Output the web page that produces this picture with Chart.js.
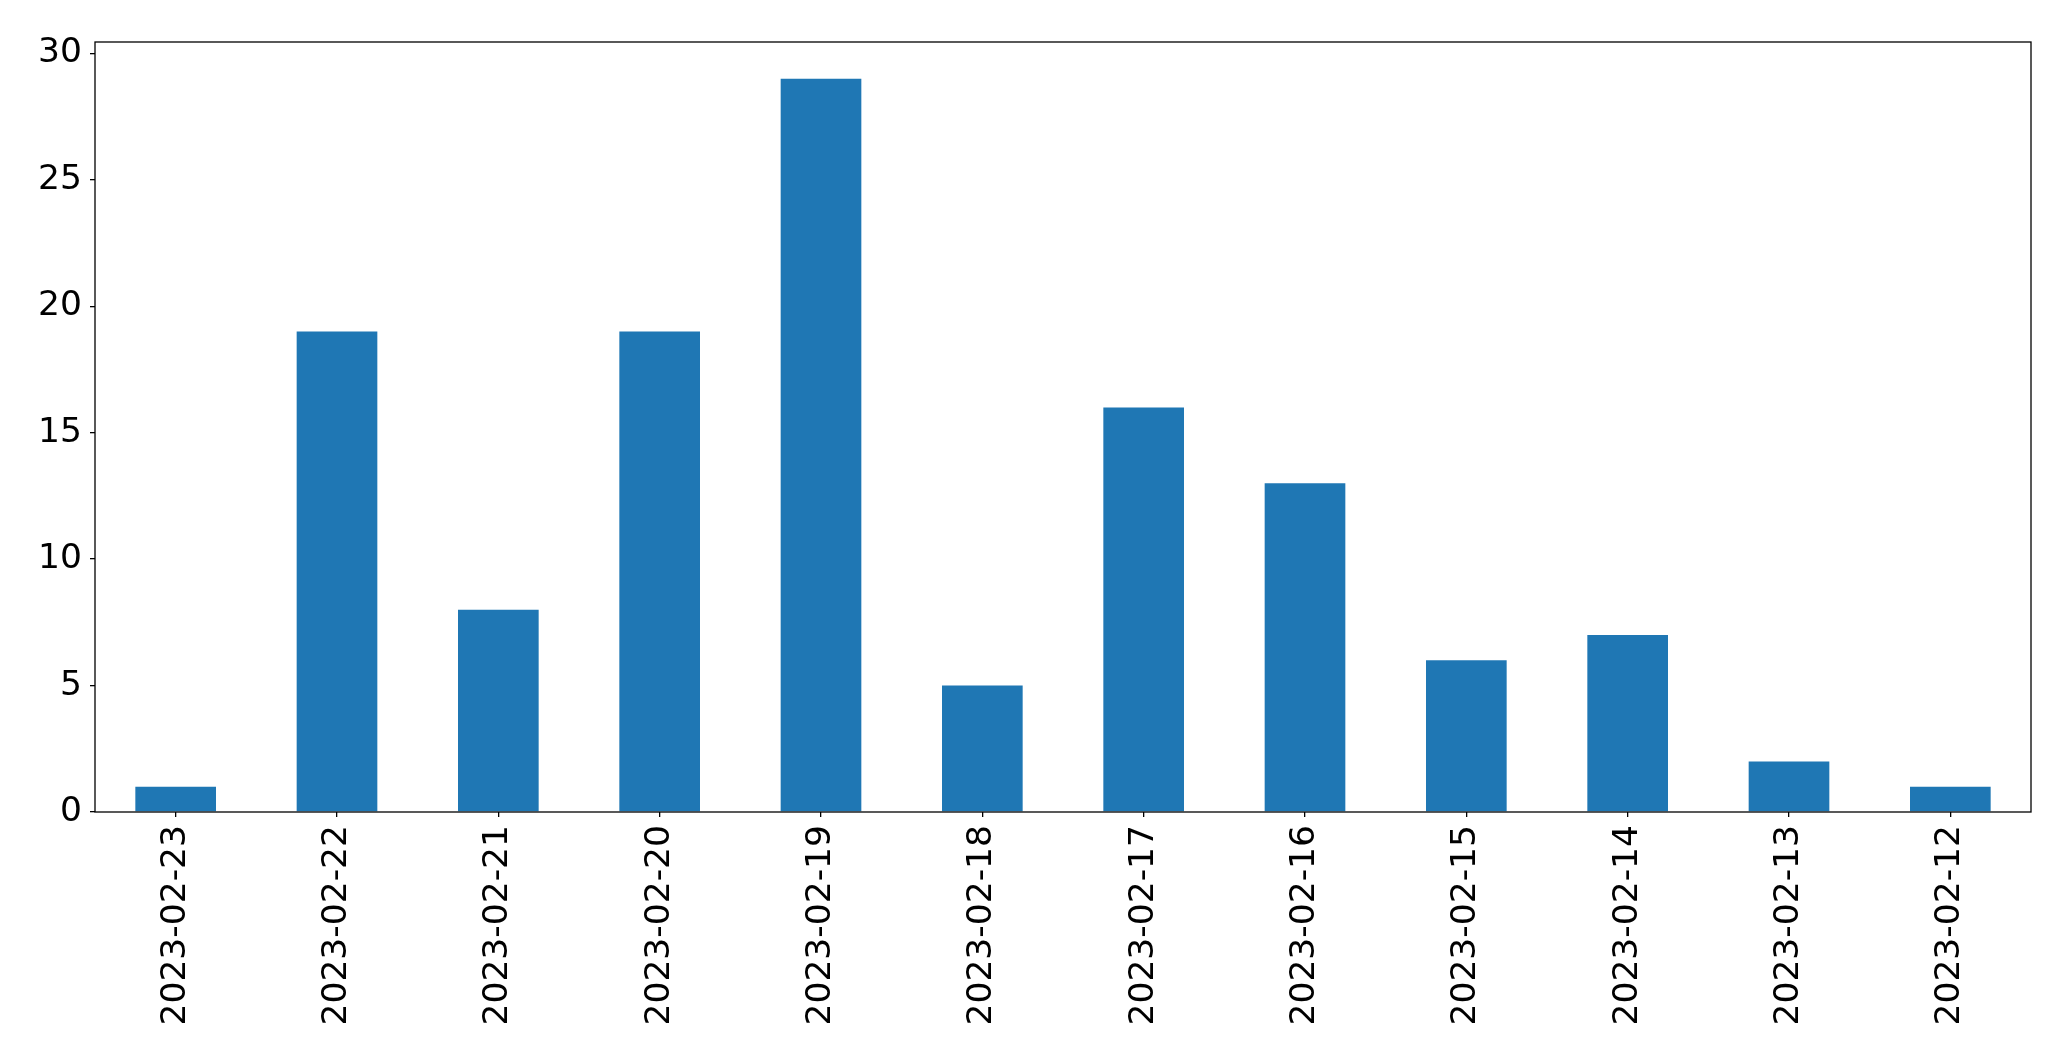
<!DOCTYPE html>
<html>
<head>
<meta charset="utf-8">
<script src="https://cdn.jsdelivr.net/npm/chart.js@4/dist/chart.umd.min.js"></script>
<style>
html,body{margin:0;padding:0;background:#fff;}
#wrap{width:2071px;height:1064px;position:relative;}
</style>
</head>
<body>
<div id="wrap"><canvas id="c" width="2071" height="1064"></canvas></div>
<script>
const categories = ["2023-02-23","2023-02-22","2023-02-21","2023-02-20","2023-02-19","2023-02-18","2023-02-17","2023-02-16","2023-02-15","2023-02-14","2023-02-13","2023-02-12"];
const counts = [1, 19, 8, 19, 29, 5, 16, 13, 6, 7, 2, 1];
const yTicks = [0, 5, 10, 15, 20, 25, 30];

const FONT = {family: "'DejaVu Sans'", size: 34.5};

const frame = {
  id: 'frame',
  afterDatasetsDraw(chart) {
    const {ctx, chartArea: a} = chart;
    ctx.save();
    ctx.strokeStyle = '#000';
    ctx.lineWidth = 1.3;
    ctx.strokeRect(a.left, a.top, a.right - a.left, a.bottom - a.top);
    ctx.restore();
  }
};

new Chart(document.getElementById('c'), {
  type: 'bar',
  data: {
    labels: categories,
    datasets: [{
      data: counts,
      backgroundColor: '#1f77b4',
      borderWidth: 0,
      barPercentage: 0.5,
      categoryPercentage: 1.0
    }]
  },
  options: {
    responsive: false,
    animation: false,
    devicePixelRatio: 1,
    layout: {padding: {top: 42, right: 40, left: 0, bottom: 0}},
    plugins: {legend: {display: false}, tooltip: {enabled: false}},
    scales: {
      x: {
        afterFit(s) { s.height = 252; },
        grid: {display: true, offset: false, drawOnChartArea: false, drawTicks: true, tickLength: 5, color: '#000', lineWidth: 1.3},
        border: {display: false},
        ticks: {font: FONT, color: '#000', minRotation: 90, maxRotation: 90, padding: 8, autoSkip: false}
      },
      y: {
        min: 0,
        max: 30.45,
        afterFit(s) { s.width = 95; },
        afterBuildTicks(s) { s.ticks = yTicks.map(v => ({value: v})); },
        grid: {display: true, drawOnChartArea: false, drawTicks: true, tickLength: 5, color: '#000', lineWidth: 1.3},
        border: {display: false},
        ticks: {font: FONT, color: '#000', padding: 8}
      }
    }
  },
  plugins: [frame]
});
</script>
</body>
</html>
